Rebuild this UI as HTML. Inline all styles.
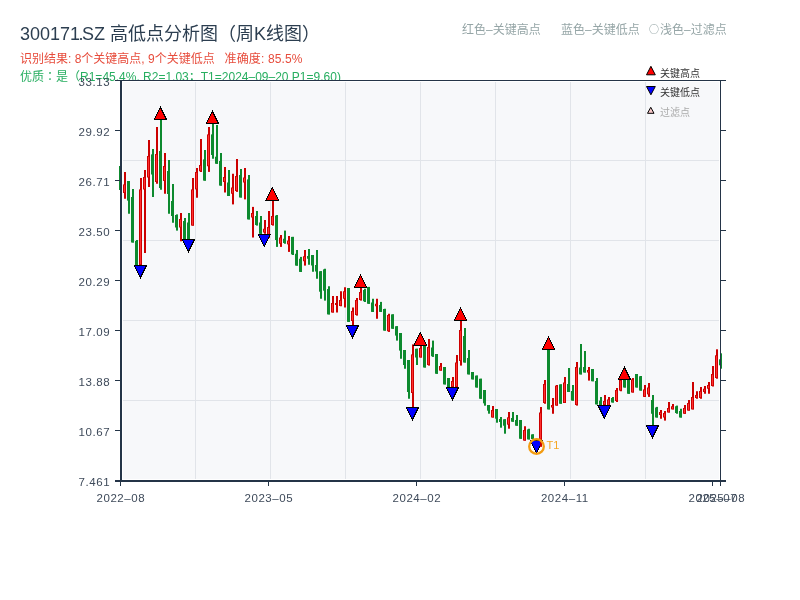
<!DOCTYPE html>
<html><head><meta charset="utf-8"><title>300171.SZ 高低点分析图</title>
<style>
html,body{margin:0;padding:0;background:#fff;}
body{width:800px;height:600px;overflow:hidden;position:relative;font-family:"Liberation Sans", "Noto Sans CJK SC", sans-serif;}
svg{position:absolute;left:0;top:0;will-change:transform;}
</style></head><body>
<svg width="800" height="600" viewBox="0 0 800 600" font-family='"Liberation Sans", "Noto Sans CJK SC", sans-serif'>
<text x="20" y="40" font-size="18" fill="#2c3e50">300171<tspan dx="-1.5">.</tspan><tspan dx="-1.5">SZ</tspan> 高低点分析图（周K线图）</text>
<g font-size="12" fill="#e74c3c">
<text x="20" y="63.3">识别结果: 8个关键高点, 9个关键低点</text>
<text x="224.5" y="63.3" letter-spacing="0.15">准确度: 85.5%</text>
</g>
<text x="20" y="81.4" font-size="12" fill="#27ae60">优质<tspan font-family='"Noto Sans CJK TC", sans-serif'>：</tspan>是（R1=45.4%, R2=1.03；T1=2024–09–20 P1=9.60)</text>
<g font-size="12" fill="#95a5a6">
<text x="462" y="33.8">红色–关键高点</text>
<text x="561" y="33.8">蓝色–关键低点</text>
<text x="648" y="33.8"><tspan font-family='"Noto Sans CJK SC", sans-serif' font-size="10" dx="1" dy="-0.8">○</tspan><tspan dx="1" dy="0.8">浅色–过滤点</tspan></text>
</g>
<rect x="115" y="81" width="611" height="1" fill="#fff"/>
<rect x="123" y="82" width="596" height="397" fill="#f7f8fa"/>
<line x1="195.5" y1="82" x2="195.5" y2="479" stroke="#e1e4e9" stroke-width="1"/>
<line x1="270.5" y1="82" x2="270.5" y2="479" stroke="#e1e4e9" stroke-width="1"/>
<line x1="345.5" y1="82" x2="345.5" y2="479" stroke="#e1e4e9" stroke-width="1"/>
<line x1="420.5" y1="82" x2="420.5" y2="479" stroke="#e1e4e9" stroke-width="1"/>
<line x1="495.5" y1="82" x2="495.5" y2="479" stroke="#e1e4e9" stroke-width="1"/>
<line x1="570.5" y1="82" x2="570.5" y2="479" stroke="#e1e4e9" stroke-width="1"/>
<line x1="645.5" y1="82" x2="645.5" y2="479" stroke="#e1e4e9" stroke-width="1"/>
<line x1="123" y1="160.5" x2="719" y2="160.5" stroke="#e1e4e9" stroke-width="1"/>
<line x1="123" y1="240.5" x2="719" y2="240.5" stroke="#e1e4e9" stroke-width="1"/>
<line x1="123" y1="320.5" x2="719" y2="320.5" stroke="#e1e4e9" stroke-width="1"/>
<line x1="123" y1="400.5" x2="719" y2="400.5" stroke="#e1e4e9" stroke-width="1"/>
<circle cx="536.5" cy="446.5" r="7" fill="#ffffff"/>
<rect x="120.0" y="164" width="2" height="27.00" fill="#0d8a2e"/><rect x="119.0" y="166" width="3" height="24.00" fill="#0d8a2e"/>
<rect x="124.0" y="172" width="2" height="26.75" fill="#cc0000"/><rect x="123.0" y="184.4" width="3" height="8.60" fill="#cc0000"/><rect x="124.0" y="185.20" width="1" height="7.00" fill="#ff3030"/>
<rect x="128.0" y="181" width="2" height="32.75" fill="#0d8a2e"/><rect x="127.0" y="181" width="3" height="19.60" fill="#0d8a2e"/>
<rect x="132.0" y="189" width="2" height="53.50" fill="#0d8a2e"/><rect x="131.0" y="197" width="3" height="45.50" fill="#0d8a2e"/>
<rect x="136.0" y="240" width="2" height="25.00" fill="#0d8a2e"/><rect x="135.0" y="241" width="3" height="24.00" fill="#0d8a2e"/>
<rect x="140.0" y="178" width="2" height="87.00" fill="#cc0000"/><rect x="139.0" y="189.4" width="3" height="75.60" fill="#cc0000"/><rect x="140.0" y="190.20" width="1" height="74.00" fill="#ff3030"/>
<rect x="144.0" y="170" width="2" height="83.00" fill="#cc0000"/><rect x="143.0" y="177" width="3" height="12.50" fill="#cc0000"/><rect x="144.0" y="177.80" width="1" height="10.90" fill="#ff3030"/>
<rect x="148.0" y="140" width="2" height="47.00" fill="#cc0000"/><rect x="147.0" y="156" width="3" height="21.50" fill="#cc0000"/><rect x="148.0" y="156.80" width="1" height="19.90" fill="#ff3030"/>
<rect x="152.0" y="149" width="2" height="48.00" fill="#0d8a2e"/><rect x="151.0" y="154.4" width="3" height="20.10" fill="#0d8a2e"/>
<rect x="156.0" y="127" width="2" height="56.75" fill="#cc0000"/><rect x="155.0" y="154" width="3" height="28.00" fill="#cc0000"/><rect x="156.0" y="154.80" width="1" height="26.40" fill="#ff3030"/>
<rect x="160.0" y="119.75" width="2" height="70.00" fill="#0d8a2e"/><rect x="159.0" y="151" width="3" height="37.00" fill="#0d8a2e"/>
<rect x="164.0" y="153" width="2" height="40.75" fill="#cc0000"/><rect x="163.0" y="166" width="3" height="15.00" fill="#cc0000"/><rect x="164.0" y="166.80" width="1" height="13.40" fill="#ff3030"/>
<rect x="168.0" y="160" width="2" height="53.75" fill="#0d8a2e"/><rect x="167.0" y="171" width="3" height="23.00" fill="#0d8a2e"/>
<rect x="172.0" y="184" width="2" height="38.75" fill="#0d8a2e"/><rect x="171.0" y="201" width="3" height="15.00" fill="#0d8a2e"/>
<rect x="176.0" y="214.4" width="2" height="16.20" fill="#0d8a2e"/><rect x="175.0" y="215" width="3" height="12.50" fill="#0d8a2e"/>
<rect x="180.0" y="213" width="2" height="28.25" fill="#cc0000"/><rect x="179.0" y="219" width="3" height="8.50" fill="#cc0000"/><rect x="180.0" y="219.80" width="1" height="6.90" fill="#ff3030"/>
<rect x="184.0" y="218" width="2" height="21.00" fill="#0d8a2e"/><rect x="183.0" y="221" width="3" height="18.00" fill="#0d8a2e"/>
<rect x="188.0" y="213" width="2" height="26.00" fill="#0d8a2e"/><rect x="187.0" y="222.5" width="3" height="16.50" fill="#0d8a2e"/>
<rect x="192.0" y="178" width="2" height="47.60" fill="#cc0000"/><rect x="191.0" y="189.4" width="3" height="36.20" fill="#cc0000"/><rect x="192.0" y="190.20" width="1" height="34.60" fill="#ff3030"/>
<rect x="196.0" y="168" width="2" height="29.75" fill="#cc0000"/><rect x="195.0" y="172" width="3" height="17.40" fill="#cc0000"/><rect x="196.0" y="172.80" width="1" height="15.80" fill="#ff3030"/>
<rect x="200.0" y="139" width="2" height="33.00" fill="#cc0000"/><rect x="199.0" y="165" width="3" height="6.25" fill="#cc0000"/><rect x="200.0" y="165.80" width="1" height="4.65" fill="#ff3030"/>
<rect x="204.0" y="150" width="2" height="30.60" fill="#0d8a2e"/><rect x="203.0" y="159.4" width="3" height="21.20" fill="#0d8a2e"/>
<rect x="208.0" y="127" width="2" height="44.90" fill="#cc0000"/><rect x="207.0" y="134.4" width="3" height="31.85" fill="#cc0000"/><rect x="208.0" y="135.20" width="1" height="30.25" fill="#ff3030"/>
<rect x="212.0" y="123.75" width="2" height="35.00" fill="#0d8a2e"/><rect x="211.0" y="134.4" width="3" height="20.60" fill="#0d8a2e"/>
<rect x="216.0" y="125" width="2" height="38.75" fill="#0d8a2e"/><rect x="215.0" y="156.7" width="3" height="7.05" fill="#0d8a2e"/>
<rect x="220.0" y="153" width="2" height="32.60" fill="#0d8a2e"/><rect x="219.0" y="161" width="3" height="24.60" fill="#0d8a2e"/>
<rect x="224.0" y="167" width="2" height="25.50" fill="#cc0000"/><rect x="223.0" y="177" width="3" height="5.00" fill="#cc0000"/><rect x="224.0" y="177.80" width="1" height="3.40" fill="#ff3030"/>
<rect x="228.0" y="170" width="2" height="26.00" fill="#0d8a2e"/><rect x="227.0" y="182.5" width="3" height="13.50" fill="#0d8a2e"/>
<rect x="232.0" y="173.75" width="2" height="30.65" fill="#cc0000"/><rect x="231.0" y="187.5" width="3" height="6.25" fill="#cc0000"/><rect x="232.0" y="188.30" width="1" height="4.65" fill="#ff3030"/>
<rect x="236.0" y="159" width="2" height="32.90" fill="#cc0000"/><rect x="235.0" y="176" width="3" height="15.00" fill="#cc0000"/><rect x="236.0" y="176.80" width="1" height="13.40" fill="#ff3030"/>
<rect x="240.0" y="169" width="2" height="28.50" fill="#0d8a2e"/><rect x="239.0" y="175" width="3" height="22.50" fill="#0d8a2e"/>
<rect x="244.0" y="168" width="2" height="31.40" fill="#cc0000"/><rect x="243.0" y="177.5" width="3" height="5.00" fill="#cc0000"/><rect x="244.0" y="178.30" width="1" height="3.40" fill="#ff3030"/>
<rect x="248.0" y="175" width="2" height="44.40" fill="#0d8a2e"/><rect x="247.0" y="179.4" width="3" height="40.00" fill="#0d8a2e"/>
<rect x="252.0" y="206.9" width="2" height="30.60" fill="#cc0000"/><rect x="251.0" y="213" width="3" height="4.50" fill="#cc0000"/><rect x="252.0" y="213.80" width="1" height="2.90" fill="#ff3030"/>
<rect x="256.0" y="211" width="2" height="14.60" fill="#0d8a2e"/><rect x="255.0" y="216" width="3" height="9.00" fill="#0d8a2e"/>
<rect x="260.0" y="216" width="2" height="17.75" fill="#0d8a2e"/><rect x="259.0" y="222.5" width="3" height="11.25" fill="#0d8a2e"/>
<rect x="264.0" y="220" width="2" height="13.75" fill="#cc0000"/><rect x="263.0" y="228.75" width="3" height="3.75" fill="#cc0000"/><rect x="264.0" y="229.55" width="1" height="2.15" fill="#ff3030"/>
<rect x="268.0" y="211" width="2" height="27.00" fill="#cc0000"/><rect x="267.0" y="227" width="3" height="11.00" fill="#cc0000"/><rect x="268.0" y="227.80" width="1" height="9.40" fill="#ff3030"/>
<rect x="272.0" y="200" width="2" height="25.60" fill="#cc0000"/><rect x="271.0" y="216" width="3" height="9.00" fill="#cc0000"/><rect x="272.0" y="216.80" width="1" height="7.40" fill="#ff3030"/>
<rect x="276.0" y="215" width="2" height="31.90" fill="#0d8a2e"/><rect x="275.0" y="215.6" width="3" height="24.40" fill="#0d8a2e"/>
<rect x="280.0" y="235" width="2" height="11.90" fill="#cc0000"/><rect x="279.0" y="237.5" width="3" height="6.25" fill="#cc0000"/><rect x="280.0" y="238.30" width="1" height="4.65" fill="#ff3030"/>
<rect x="284.0" y="230.6" width="2" height="13.15" fill="#0d8a2e"/><rect x="283.0" y="238.75" width="3" height="4.25" fill="#0d8a2e"/>
<rect x="288.0" y="236" width="2" height="15.90" fill="#cc0000"/><rect x="287.0" y="240.6" width="3" height="3.80" fill="#cc0000"/><rect x="288.0" y="241.40" width="1" height="2.20" fill="#ff3030"/>
<rect x="292.0" y="236.9" width="2" height="18.10" fill="#0d8a2e"/><rect x="291.0" y="236.9" width="3" height="17.50" fill="#0d8a2e"/>
<rect x="296.0" y="250" width="2" height="15.60" fill="#0d8a2e"/><rect x="295.0" y="253.75" width="3" height="11.85" fill="#0d8a2e"/>
<rect x="300.0" y="256.9" width="2" height="15.00" fill="#0d8a2e"/><rect x="299.0" y="258.75" width="3" height="13.15" fill="#0d8a2e"/>
<rect x="304.0" y="250" width="2" height="15.60" fill="#cc0000"/><rect x="303.0" y="256.25" width="3" height="5.00" fill="#cc0000"/><rect x="304.0" y="257.05" width="1" height="3.40" fill="#ff3030"/>
<rect x="308.0" y="249" width="2" height="15.75" fill="#0d8a2e"/><rect x="307.0" y="256" width="3" height="2.75" fill="#0d8a2e"/>
<rect x="312.0" y="255" width="2" height="16.75" fill="#0d8a2e"/><rect x="311.0" y="255" width="3" height="10.50" fill="#0d8a2e"/>
<rect x="316.0" y="250" width="2" height="28.75" fill="#0d8a2e"/><rect x="315.0" y="265" width="3" height="6.50" fill="#0d8a2e"/>
<rect x="320.0" y="271.25" width="2" height="27.50" fill="#0d8a2e"/><rect x="319.0" y="271.25" width="3" height="20.45" fill="#0d8a2e"/>
<rect x="324.0" y="268.75" width="2" height="31.85" fill="#0d8a2e"/><rect x="323.0" y="269.4" width="3" height="21.30" fill="#0d8a2e"/>
<rect x="328.0" y="286.25" width="2" height="28.15" fill="#0d8a2e"/><rect x="327.0" y="289" width="3" height="25.40" fill="#0d8a2e"/>
<rect x="332.0" y="296" width="2" height="16.50" fill="#cc0000"/><rect x="331.0" y="303" width="3" height="9.50" fill="#cc0000"/><rect x="332.0" y="303.80" width="1" height="7.90" fill="#ff3030"/>
<rect x="336.0" y="296" width="2" height="16.50" fill="#cc0000"/><rect x="335.0" y="303" width="3" height="2.00" fill="#cc0000"/>
<rect x="340.0" y="291.25" width="2" height="15.00" fill="#cc0000"/><rect x="339.0" y="300" width="3" height="6.00" fill="#cc0000"/><rect x="340.0" y="300.80" width="1" height="4.40" fill="#ff3030"/>
<rect x="344.0" y="287.25" width="2" height="20.25" fill="#cc0000"/><rect x="343.0" y="291.25" width="3" height="7.50" fill="#cc0000"/><rect x="344.0" y="292.05" width="1" height="5.90" fill="#ff3030"/>
<rect x="348.0" y="288" width="2" height="33.90" fill="#0d8a2e"/><rect x="347.0" y="288" width="3" height="33.90" fill="#0d8a2e"/>
<rect x="352.0" y="307.5" width="2" height="17.50" fill="#cc0000"/><rect x="351.0" y="311" width="3" height="10.00" fill="#cc0000"/><rect x="352.0" y="311.80" width="1" height="8.40" fill="#ff3030"/>
<rect x="356.0" y="298" width="2" height="17.60" fill="#cc0000"/><rect x="355.0" y="300" width="3" height="15.00" fill="#cc0000"/><rect x="356.0" y="300.80" width="1" height="13.40" fill="#ff3030"/>
<rect x="360.0" y="287.5" width="2" height="13.10" fill="#cc0000"/><rect x="359.0" y="292" width="3" height="8.00" fill="#cc0000"/><rect x="360.0" y="292.80" width="1" height="6.40" fill="#ff3030"/>
<rect x="364.0" y="288.75" width="2" height="13.25" fill="#0d8a2e"/><rect x="363.0" y="290" width="3" height="11.25" fill="#0d8a2e"/>
<rect x="368.0" y="286.9" width="2" height="16.85" fill="#0d8a2e"/><rect x="367.0" y="287" width="3" height="16.75" fill="#0d8a2e"/>
<rect x="372.0" y="298.75" width="2" height="13.15" fill="#0d8a2e"/><rect x="371.0" y="302.5" width="3" height="9.40" fill="#0d8a2e"/>
<rect x="376.0" y="298.75" width="2" height="20.00" fill="#cc0000"/><rect x="375.0" y="303.75" width="3" height="2.50" fill="#cc0000"/><rect x="376.0" y="304.55" width="1" height="0.90" fill="#ff3030"/>
<rect x="380.0" y="301.9" width="2" height="10.00" fill="#0d8a2e"/><rect x="379.0" y="305" width="3" height="6.90" fill="#0d8a2e"/>
<rect x="384.0" y="308.75" width="2" height="21.85" fill="#0d8a2e"/><rect x="383.0" y="309" width="3" height="21.60" fill="#0d8a2e"/>
<rect x="388.0" y="313.75" width="2" height="18.15" fill="#cc0000"/><rect x="387.0" y="315" width="3" height="16.25" fill="#cc0000"/><rect x="388.0" y="315.80" width="1" height="14.65" fill="#ff3030"/>
<rect x="392.0" y="314.4" width="2" height="14.35" fill="#0d8a2e"/><rect x="391.0" y="314.4" width="3" height="14.35" fill="#0d8a2e"/>
<rect x="396.0" y="326.25" width="2" height="14.35" fill="#0d8a2e"/><rect x="395.0" y="326.25" width="3" height="9.35" fill="#0d8a2e"/>
<rect x="400.0" y="333" width="2" height="25.75" fill="#0d8a2e"/><rect x="399.0" y="333" width="3" height="17.60" fill="#0d8a2e"/>
<rect x="404.0" y="350" width="2" height="18.75" fill="#0d8a2e"/><rect x="403.0" y="350" width="3" height="15.00" fill="#0d8a2e"/>
<rect x="408.0" y="360" width="2" height="38.75" fill="#0d8a2e"/><rect x="407.0" y="360" width="3" height="32.00" fill="#0d8a2e"/>
<rect x="412.0" y="344.4" width="2" height="62.60" fill="#cc0000"/><rect x="411.0" y="354.4" width="3" height="38.60" fill="#cc0000"/><rect x="412.0" y="355.20" width="1" height="37.00" fill="#ff3030"/>
<rect x="416.0" y="348.75" width="2" height="16.25" fill="#0d8a2e"/><rect x="415.0" y="348.75" width="3" height="8.75" fill="#0d8a2e"/>
<rect x="420.0" y="345" width="2" height="12.50" fill="#cc0000"/><rect x="419.0" y="348" width="3" height="9.50" fill="#cc0000"/><rect x="420.0" y="348.80" width="1" height="7.90" fill="#ff3030"/>
<rect x="424.0" y="344.4" width="2" height="23.10" fill="#0d8a2e"/><rect x="423.0" y="344.4" width="3" height="23.10" fill="#0d8a2e"/>
<rect x="428.0" y="339" width="2" height="26.60" fill="#cc0000"/><rect x="427.0" y="347" width="3" height="18.00" fill="#cc0000"/><rect x="428.0" y="347.80" width="1" height="16.40" fill="#ff3030"/>
<rect x="432.0" y="340.6" width="2" height="16.30" fill="#0d8a2e"/><rect x="431.0" y="347.5" width="3" height="8.75" fill="#0d8a2e"/>
<rect x="436.0" y="354" width="2" height="19.75" fill="#0d8a2e"/><rect x="435.0" y="354" width="3" height="19.75" fill="#0d8a2e"/>
<rect x="440.0" y="363" width="2" height="7.60" fill="#cc0000"/><rect x="439.0" y="366" width="3" height="4.60" fill="#cc0000"/><rect x="440.0" y="366.80" width="1" height="3.00" fill="#ff3030"/>
<rect x="444.0" y="367" width="2" height="17.40" fill="#0d8a2e"/><rect x="443.0" y="367" width="3" height="17.40" fill="#0d8a2e"/>
<rect x="448.0" y="378" width="2" height="9.00" fill="#0d8a2e"/><rect x="447.0" y="378" width="3" height="9.00" fill="#0d8a2e"/>
<rect x="452.0" y="377" width="2" height="10.00" fill="#cc0000"/><rect x="451.0" y="381" width="3" height="6.00" fill="#cc0000"/><rect x="452.0" y="381.80" width="1" height="4.40" fill="#ff3030"/>
<rect x="456.0" y="355" width="2" height="32.00" fill="#cc0000"/><rect x="455.0" y="362.5" width="3" height="24.50" fill="#cc0000"/><rect x="456.0" y="363.30" width="1" height="22.90" fill="#ff3030"/>
<rect x="460.0" y="320.6" width="2" height="45.00" fill="#cc0000"/><rect x="459.0" y="330" width="3" height="31.00" fill="#cc0000"/><rect x="460.0" y="330.80" width="1" height="29.40" fill="#ff3030"/>
<rect x="464.0" y="328" width="2" height="34.50" fill="#0d8a2e"/><rect x="463.0" y="336" width="3" height="26.50" fill="#0d8a2e"/>
<rect x="468.0" y="350" width="2" height="24.40" fill="#0d8a2e"/><rect x="467.0" y="358" width="3" height="16.40" fill="#0d8a2e"/>
<rect x="472.0" y="372" width="2" height="7.40" fill="#0d8a2e"/><rect x="471.0" y="372" width="3" height="7.40" fill="#0d8a2e"/>
<rect x="476.0" y="375.6" width="2" height="11.90" fill="#0d8a2e"/><rect x="475.0" y="375.6" width="3" height="11.90" fill="#0d8a2e"/>
<rect x="480.0" y="378.75" width="2" height="20.00" fill="#0d8a2e"/><rect x="479.0" y="378.75" width="3" height="20.00" fill="#0d8a2e"/>
<rect x="484.0" y="390" width="2" height="15.70" fill="#0d8a2e"/><rect x="483.0" y="390" width="3" height="13.30" fill="#0d8a2e"/>
<rect x="488.0" y="405" width="2" height="8.70" fill="#0d8a2e"/><rect x="487.0" y="405" width="3" height="5.70" fill="#0d8a2e"/>
<rect x="492.0" y="406" width="2" height="11.50" fill="#cc0000"/><rect x="491.0" y="410" width="3" height="7.50" fill="#cc0000"/><rect x="492.0" y="410.80" width="1" height="5.90" fill="#ff3030"/>
<rect x="496.0" y="409" width="2" height="13.70" fill="#0d8a2e"/><rect x="495.0" y="409" width="3" height="9.70" fill="#0d8a2e"/>
<rect x="500.0" y="417" width="2" height="10.70" fill="#0d8a2e"/><rect x="499.0" y="419" width="3" height="3.00" fill="#0d8a2e"/>
<rect x="504.0" y="419.3" width="2" height="14.40" fill="#0d8a2e"/><rect x="503.0" y="419.3" width="3" height="6.40" fill="#0d8a2e"/>
<rect x="508.0" y="412" width="2" height="16.70" fill="#cc0000"/><rect x="507.0" y="417.3" width="3" height="7.40" fill="#cc0000"/><rect x="508.0" y="418.10" width="1" height="5.80" fill="#ff3030"/>
<rect x="512.0" y="412" width="2" height="9.70" fill="#0d8a2e"/><rect x="511.0" y="418" width="3" height="3.70" fill="#0d8a2e"/>
<rect x="516.0" y="415" width="2" height="10.70" fill="#0d8a2e"/><rect x="515.0" y="420" width="3" height="5.70" fill="#0d8a2e"/>
<rect x="520.0" y="420" width="2" height="18.75" fill="#0d8a2e"/><rect x="519.0" y="420" width="3" height="18.75" fill="#0d8a2e"/>
<rect x="524.0" y="426.25" width="2" height="14.35" fill="#cc0000"/><rect x="523.0" y="430" width="3" height="10.60" fill="#cc0000"/><rect x="524.0" y="430.80" width="1" height="9.00" fill="#ff3030"/>
<rect x="528.0" y="428.75" width="2" height="10.65" fill="#0d8a2e"/><rect x="527.0" y="429.4" width="3" height="10.00" fill="#0d8a2e"/>
<rect x="532.0" y="434.4" width="2" height="5.00" fill="#0d8a2e"/><rect x="531.0" y="434.4" width="3" height="4.60" fill="#0d8a2e"/>
<rect x="536.0" y="439" width="2" height="2.00" fill="#cc0000"/><rect x="535.0" y="439.5" width="3" height="1.50" fill="#cc0000"/>
<rect x="540.0" y="407" width="2" height="39.60" fill="#cc0000"/><rect x="539.0" y="412.5" width="3" height="26.90" fill="#cc0000"/><rect x="540.0" y="413.30" width="1" height="25.30" fill="#ff3030"/>
<rect x="544.0" y="380" width="2" height="23.75" fill="#cc0000"/><rect x="543.0" y="384" width="3" height="19.00" fill="#cc0000"/><rect x="544.0" y="384.80" width="1" height="17.40" fill="#ff3030"/>
<rect x="548.0" y="349.4" width="2" height="60.00" fill="#0d8a2e"/><rect x="547.0" y="349.4" width="3" height="60.00" fill="#0d8a2e"/>
<rect x="552.0" y="398" width="2" height="15.75" fill="#cc0000"/><rect x="551.0" y="405" width="3" height="2.50" fill="#cc0000"/><rect x="552.0" y="405.80" width="1" height="0.90" fill="#ff3030"/>
<rect x="556.0" y="385" width="2" height="20.60" fill="#cc0000"/><rect x="555.0" y="385.6" width="3" height="20.00" fill="#cc0000"/><rect x="556.0" y="386.40" width="1" height="18.40" fill="#ff3030"/>
<rect x="560.0" y="384.4" width="2" height="19.35" fill="#0d8a2e"/><rect x="559.0" y="384.4" width="3" height="19.35" fill="#0d8a2e"/>
<rect x="564.0" y="377" width="2" height="26.00" fill="#cc0000"/><rect x="563.0" y="382.5" width="3" height="20.50" fill="#cc0000"/><rect x="564.0" y="383.30" width="1" height="18.90" fill="#ff3030"/>
<rect x="568.0" y="368" width="2" height="24.00" fill="#0d8a2e"/><rect x="567.0" y="384" width="3" height="8.00" fill="#0d8a2e"/>
<rect x="572.0" y="385" width="2" height="15.60" fill="#0d8a2e"/><rect x="571.0" y="391" width="3" height="9.60" fill="#0d8a2e"/>
<rect x="576.0" y="362" width="2" height="43.60" fill="#cc0000"/><rect x="575.0" y="367" width="3" height="38.00" fill="#cc0000"/><rect x="576.0" y="367.80" width="1" height="36.40" fill="#ff3030"/>
<rect x="580.0" y="344" width="2" height="30.40" fill="#0d8a2e"/><rect x="579.0" y="367.5" width="3" height="6.90" fill="#0d8a2e"/>
<rect x="584.0" y="351" width="2" height="21.50" fill="#0d8a2e"/><rect x="583.0" y="367" width="3" height="5.50" fill="#0d8a2e"/>
<rect x="588.0" y="367" width="2" height="13.60" fill="#cc0000"/><rect x="587.0" y="370" width="3" height="2.50" fill="#cc0000"/><rect x="588.0" y="370.80" width="1" height="0.90" fill="#ff3030"/>
<rect x="592.0" y="369" width="2" height="12.25" fill="#0d8a2e"/><rect x="591.0" y="369" width="3" height="12.25" fill="#0d8a2e"/>
<rect x="596.0" y="378" width="2" height="26.40" fill="#0d8a2e"/><rect x="595.0" y="381" width="3" height="23.40" fill="#0d8a2e"/>
<rect x="600.0" y="397" width="2" height="8.60" fill="#0d8a2e"/><rect x="599.0" y="400.6" width="3" height="4.40" fill="#0d8a2e"/>
<rect x="604.0" y="395" width="2" height="10.60" fill="#cc0000"/><rect x="603.0" y="401" width="3" height="4.00" fill="#cc0000"/><rect x="604.0" y="401.80" width="1" height="2.40" fill="#ff3030"/>
<rect x="608.0" y="397" width="2" height="8.60" fill="#cc0000"/><rect x="607.0" y="399.4" width="3" height="6.20" fill="#cc0000"/><rect x="608.0" y="400.20" width="1" height="4.60" fill="#ff3030"/>
<rect x="612.0" y="397" width="2" height="5.50" fill="#0d8a2e"/><rect x="611.0" y="398" width="3" height="4.50" fill="#0d8a2e"/>
<rect x="616.0" y="388" width="2" height="14.00" fill="#cc0000"/><rect x="615.0" y="390" width="3" height="11.00" fill="#cc0000"/><rect x="616.0" y="390.80" width="1" height="9.40" fill="#ff3030"/>
<rect x="620.0" y="379.4" width="2" height="11.85" fill="#cc0000"/><rect x="619.0" y="380" width="3" height="10.60" fill="#cc0000"/><rect x="620.0" y="380.80" width="1" height="9.00" fill="#ff3030"/>
<rect x="624.0" y="379.75" width="2" height="7.75" fill="#0d8a2e"/><rect x="623.0" y="379.75" width="3" height="7.75" fill="#0d8a2e"/>
<rect x="628.0" y="379.75" width="2" height="14.00" fill="#0d8a2e"/><rect x="627.0" y="379.75" width="3" height="14.00" fill="#0d8a2e"/>
<rect x="632.0" y="378" width="2" height="14.50" fill="#cc0000"/><rect x="631.0" y="379.4" width="3" height="13.10" fill="#cc0000"/><rect x="632.0" y="380.20" width="1" height="11.50" fill="#ff3030"/>
<rect x="636.0" y="374" width="2" height="13.50" fill="#0d8a2e"/><rect x="635.0" y="374" width="3" height="13.50" fill="#0d8a2e"/>
<rect x="640.0" y="376" width="2" height="14.60" fill="#0d8a2e"/><rect x="639.0" y="376.25" width="3" height="14.35" fill="#0d8a2e"/>
<rect x="644.0" y="385" width="2" height="11.90" fill="#cc0000"/><rect x="643.0" y="389.4" width="3" height="7.50" fill="#cc0000"/><rect x="644.0" y="390.20" width="1" height="5.90" fill="#ff3030"/>
<rect x="648.0" y="383" width="2" height="13.90" fill="#cc0000"/><rect x="647.0" y="387.5" width="3" height="6.90" fill="#cc0000"/><rect x="648.0" y="388.30" width="1" height="5.30" fill="#ff3030"/>
<rect x="652.0" y="395" width="2" height="30.00" fill="#0d8a2e"/><rect x="651.0" y="400" width="3" height="13.75" fill="#0d8a2e"/>
<rect x="656.0" y="406.9" width="2" height="10.60" fill="#0d8a2e"/><rect x="655.0" y="407.5" width="3" height="10.00" fill="#0d8a2e"/>
<rect x="660.0" y="410" width="2" height="8.75" fill="#cc0000"/><rect x="659.0" y="412" width="3" height="3.00" fill="#cc0000"/><rect x="660.0" y="412.80" width="1" height="1.40" fill="#ff3030"/>
<rect x="664.0" y="411" width="2" height="9.60" fill="#cc0000"/><rect x="663.0" y="413" width="3" height="4.50" fill="#cc0000"/><rect x="664.0" y="413.80" width="1" height="2.90" fill="#ff3030"/>
<rect x="668.0" y="402" width="2" height="10.50" fill="#cc0000"/><rect x="667.0" y="408" width="3" height="4.50" fill="#cc0000"/><rect x="668.0" y="408.80" width="1" height="2.90" fill="#ff3030"/>
<rect x="672.0" y="404" width="2" height="5.40" fill="#cc0000"/><rect x="671.0" y="406.25" width="3" height="3.15" fill="#cc0000"/><rect x="672.0" y="407.05" width="1" height="1.55" fill="#ff3030"/>
<rect x="676.0" y="405.6" width="2" height="8.15" fill="#0d8a2e"/><rect x="675.0" y="406.25" width="3" height="6.75" fill="#0d8a2e"/>
<rect x="680.0" y="408.75" width="2" height="8.75" fill="#0d8a2e"/><rect x="679.0" y="411" width="3" height="6.50" fill="#0d8a2e"/>
<rect x="684.0" y="405" width="2" height="8.75" fill="#cc0000"/><rect x="683.0" y="408" width="3" height="5.75" fill="#cc0000"/><rect x="684.0" y="408.80" width="1" height="4.15" fill="#ff3030"/>
<rect x="688.0" y="400" width="2" height="10.60" fill="#cc0000"/><rect x="687.0" y="403" width="3" height="7.60" fill="#cc0000"/><rect x="688.0" y="403.80" width="1" height="6.00" fill="#ff3030"/>
<rect x="692.0" y="382" width="2" height="27.40" fill="#cc0000"/><rect x="691.0" y="397" width="3" height="12.40" fill="#cc0000"/><rect x="692.0" y="397.80" width="1" height="10.80" fill="#ff3030"/>
<rect x="696.0" y="391.25" width="2" height="7.50" fill="#cc0000"/><rect x="695.0" y="395" width="3" height="3.00" fill="#cc0000"/><rect x="696.0" y="395.80" width="1" height="1.40" fill="#ff3030"/>
<rect x="700.0" y="387" width="2" height="11.75" fill="#cc0000"/><rect x="699.0" y="391" width="3" height="7.00" fill="#cc0000"/><rect x="700.0" y="391.80" width="1" height="5.40" fill="#ff3030"/>
<rect x="704.0" y="386" width="2" height="7.75" fill="#cc0000"/><rect x="703.0" y="388.75" width="3" height="3.25" fill="#cc0000"/><rect x="704.0" y="389.55" width="1" height="1.65" fill="#ff3030"/>
<rect x="708.0" y="382" width="2" height="11.75" fill="#cc0000"/><rect x="707.0" y="385" width="3" height="3.75" fill="#cc0000"/><rect x="708.0" y="385.80" width="1" height="2.15" fill="#ff3030"/>
<rect x="712.0" y="366" width="2" height="20.50" fill="#cc0000"/><rect x="711.0" y="374" width="3" height="12.00" fill="#cc0000"/><rect x="712.0" y="374.80" width="1" height="10.40" fill="#ff3030"/>
<rect x="716.0" y="349.3" width="2" height="29.40" fill="#cc0000"/><rect x="715.0" y="355.3" width="3" height="22.70" fill="#cc0000"/><rect x="716.0" y="356.10" width="1" height="21.10" fill="#ff3030"/>
<rect x="720.0" y="353.3" width="2" height="15.40" fill="#0d8a2e"/><rect x="719.0" y="359.3" width="3" height="6.00" fill="#0d8a2e"/>
<polygon points="154.15,119.75 166.65,119.75 160.40,107.25" fill="#ff0000" stroke="#000" stroke-width="1" shape-rendering="crispEdges"/>
<polygon points="206.15,123.75 218.65,123.75 212.40,111.25" fill="#ff0000" stroke="#000" stroke-width="1" shape-rendering="crispEdges"/>
<polygon points="266.15,200 278.65,200 272.40,187.5" fill="#ff0000" stroke="#000" stroke-width="1" shape-rendering="crispEdges"/>
<polygon points="354.15,287.5 366.65,287.5 360.40,275.0" fill="#ff0000" stroke="#000" stroke-width="1" shape-rendering="crispEdges"/>
<polygon points="414.15,345 426.65,345 420.40,332.5" fill="#ff0000" stroke="#000" stroke-width="1" shape-rendering="crispEdges"/>
<polygon points="454.15,320.6 466.65,320.6 460.40,308.1" fill="#ff0000" stroke="#000" stroke-width="1" shape-rendering="crispEdges"/>
<polygon points="542.15,349.4 554.65,349.4 548.40,336.9" fill="#ff0000" stroke="#000" stroke-width="1" shape-rendering="crispEdges"/>
<polygon points="618.15,379.75 630.65,379.75 624.40,367.25" fill="#ff0000" stroke="#000" stroke-width="1" shape-rendering="crispEdges"/>
<polygon points="134.15,265.3 146.65,265.3 140.40,277.8" fill="#0000ff" stroke="#000" stroke-width="1" shape-rendering="crispEdges"/>
<polygon points="182.15,239.3 194.65,239.3 188.40,251.8" fill="#0000ff" stroke="#000" stroke-width="1" shape-rendering="crispEdges"/>
<polygon points="258.15,234.05 270.65,234.05 264.40,246.55" fill="#0000ff" stroke="#000" stroke-width="1" shape-rendering="crispEdges"/>
<polygon points="346.15,325.3 358.65,325.3 352.40,337.8" fill="#0000ff" stroke="#000" stroke-width="1" shape-rendering="crispEdges"/>
<polygon points="406.15,407.3 418.65,407.3 412.40,419.8" fill="#0000ff" stroke="#000" stroke-width="1" shape-rendering="crispEdges"/>
<polygon points="446.15,387.3 458.65,387.3 452.40,399.8" fill="#0000ff" stroke="#000" stroke-width="1" shape-rendering="crispEdges"/>
<polygon points="530.15,440.5 542.65,440.5 536.40,453.0" fill="#0000ff" stroke="#000" stroke-width="1" shape-rendering="crispEdges"/>
<polygon points="598.15,405.90000000000003 610.65,405.90000000000003 604.40,418.40000000000003" fill="#0000ff" stroke="#000" stroke-width="1" shape-rendering="crispEdges"/>
<polygon points="646.15,425.3 658.65,425.3 652.40,437.8" fill="#0000ff" stroke="#000" stroke-width="1" shape-rendering="crispEdges"/>
<rect x="540.0" y="439" width="2" height="7.6" fill="#cc0000"/>
<circle cx="536.5" cy="446.5" r="7.3" fill="none" stroke="#f39c12" stroke-width="2.3"/>
<text x="546.6" y="448.8" font-size="11" fill="#f5a623">T1</text>
<rect x="115" y="80" width="611" height="1" fill="#243447"/>
<rect x="120" y="80" width="2" height="402" fill="#243447"/>
<rect x="720" y="80" width="1" height="402" fill="#243447"/>
<rect x="115" y="480" width="611" height="2" fill="#243447"/>
<rect x="115" y="130" width="5" height="1" fill="#243447"/>
<rect x="721" y="130" width="5" height="1" fill="#243447"/>
<rect x="115" y="180" width="5" height="1" fill="#243447"/>
<rect x="721" y="180" width="5" height="1" fill="#243447"/>
<rect x="115" y="230" width="5" height="1" fill="#243447"/>
<rect x="721" y="230" width="5" height="1" fill="#243447"/>
<rect x="115" y="280" width="5" height="1" fill="#243447"/>
<rect x="721" y="280" width="5" height="1" fill="#243447"/>
<rect x="115" y="330" width="5" height="1" fill="#243447"/>
<rect x="721" y="330" width="5" height="1" fill="#243447"/>
<rect x="115" y="380" width="5" height="1" fill="#243447"/>
<rect x="721" y="380" width="5" height="1" fill="#243447"/>
<rect x="115" y="430" width="5" height="1" fill="#243447"/>
<rect x="721" y="430" width="5" height="1" fill="#243447"/>
<rect x="120.0" y="482" width="1" height="4" fill="#243447"/>
<rect x="268.0" y="482" width="1" height="4" fill="#243447"/>
<rect x="416.0" y="482" width="1" height="4" fill="#243447"/>
<rect x="564.0" y="482" width="1" height="4" fill="#243447"/>
<rect x="712.0" y="482" width="1" height="4" fill="#243447"/>
<rect x="720.0" y="482" width="1" height="4" fill="#243447"/>
<g font-size="11.5" letter-spacing="0.55" fill="#3e4a5a">
<text x="110.1" y="86.1" text-anchor="end">33.13</text>
<text x="110.1" y="136.1" text-anchor="end">29.92</text>
<text x="110.1" y="186.1" text-anchor="end">26.71</text>
<text x="110.1" y="236.1" text-anchor="end">23.50</text>
<text x="110.1" y="286.1" text-anchor="end">20.29</text>
<text x="110.1" y="336.1" text-anchor="end">17.09</text>
<text x="110.1" y="386.1" text-anchor="end">13.88</text>
<text x="110.1" y="436.1" text-anchor="end">10.67</text>
<text x="110.1" y="486.1" text-anchor="end">7.461</text>
<text x="120.8" y="502" text-anchor="middle">2022–08</text>
<text x="268.8" y="502" text-anchor="middle">2023–05</text>
<text x="416.8" y="502" text-anchor="middle">2024–02</text>
<text x="564.8" y="502" text-anchor="middle">2024–11</text>
<text x="712.8" y="502" text-anchor="middle">2025–07</text>
<text x="720.8" y="502" text-anchor="middle">2025–08</text>
</g>

<polygon points="646.5,74.8 655.3,74.8 650.9,66.3" fill="#ff0000" stroke="#000" stroke-width="1"/>
<text x="660" y="76.6" font-size="10" fill="#333">关键高点</text>
<polygon points="646.5,86.5 655.3,86.5 650.9,94.8" fill="#0000ff" stroke="#000" stroke-width="1"/>
<text x="660" y="96.4" font-size="10" fill="#333">关键低点</text>
<polygon points="647.5,113.3 654,113.3 650.75,107.3" fill="#f8c8c8" stroke="#000" stroke-width="1"/>
<text x="660" y="116.2" font-size="10" fill="#aaa">过滤点</text>

</svg>
</body></html>
